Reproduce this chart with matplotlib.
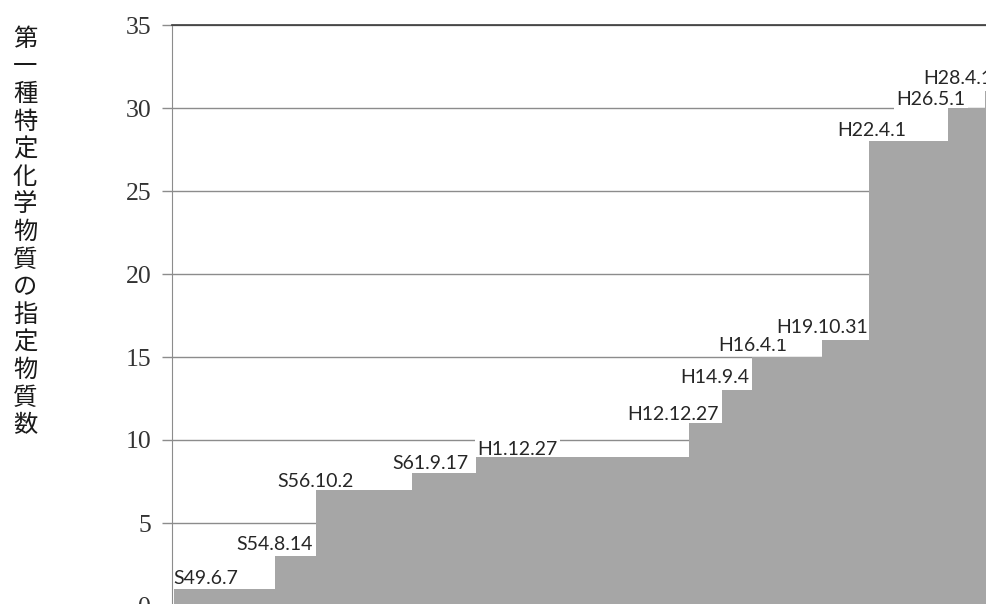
import matplotlib
matplotlib.use("Agg")
import matplotlib.pyplot as plt
import matplotlib.dates as mdates
from datetime import date

# dates when the number of designated substances changed (Showa/Heisei era dates)
change_dates = [date(1974, 6, 7), date(1979, 8, 14), date(1981, 10, 2), date(1986, 9, 17),
                date(1989, 12, 27), date(2000, 12, 27), date(2002, 9, 4), date(2004, 4, 1),
                date(2007, 10, 31), date(2010, 4, 1), date(2014, 5, 1), date(2016, 4, 1)]
counts = [1, 3, 7, 8, 9, 11, 13, 15, 16, 28, 30, 31]
labels = ["S49.6.7", "S54.8.14", "S56.10.2", "S61.9.17", "H1.12.27", "H12.12.27",
          "H14.9.4", "H16.4.1", "H19.10.31", "H22.4.1", "H26.5.1", "H28.4.1"]
yticks = [0, 5, 10, 15, 20, 25, 30, 35]
ylabel = "第一種特定化学物質の指定物質数"

# label placement tweaks (pixels): horizontal shift of label centre from step start, height above step
label_dx = [32, 0, 0, 18, 42, -16, -7, 0, 0, 3, -17, -27]
label_dy = [5, 6, 3, 4, 2, 3, 7, 6, 7, 5, 3, 7]

x_start = date(1974, 5, 1)
x_end = date(2016, 5, 5)

fig = plt.figure(figsize=(9.87, 6.04), dpi=100)
ax = fig.add_axes([172 / 987, -2 / 604, 815 / 987, 581 / 604])

xs = [mdates.date2num(d) for d in change_dates]
edges = xs + [mdates.date2num(x_end) + 5]
ax.stairs(counts, edges, fill=True, color="#a6a6a6", linewidth=0, zorder=2)

for x, n, lab, dx, dy in zip(xs, counts, labels, label_dx, label_dy):
    ax.annotate(lab, (x, n), xytext=(dx, dy), textcoords="offset pixels",
                ha="center", va="baseline", fontsize=14, family="Lato",
                color="#262626", zorder=1,
                bbox=dict(facecolor="white", edgecolor="none", pad=1.5))

ax.set_xlim(mdates.date2num(x_start), mdates.date2num(x_end))
ax.set_ylim(0, 35)
ax.set_yticks(yticks)
ax.set_xticks([])
ax.yaxis.grid(True, color="#8c8c8c", linewidth=1.0)
ax.set_axisbelow(True)
ax.tick_params(axis="y", length=7, width=1, color="#8c8c8c", pad=8,
               labelsize=18.5, labelcolor="#333333")
for t in ax.get_yticklabels():
    t.set_family("Liberation Serif")

ax.spines["right"].set_visible(False)
ax.spines["bottom"].set_visible(False)
ax.spines["left"].set_color("#8c8c8c")
ax.spines["top"].set_color("#3a3a3a")
ax.spines["top"].set_linewidth(1.2)

fig.text(25 / 987, 1 - 232 / 604, "\n".join(ylabel), ha="center", va="center",
         fontsize=17.5, family=["Noto Sans CJK JP", "DejaVu Sans"], linespacing=1.08,
         color="#1a1a1a")

fig.savefig("out.png", dpi=100)
